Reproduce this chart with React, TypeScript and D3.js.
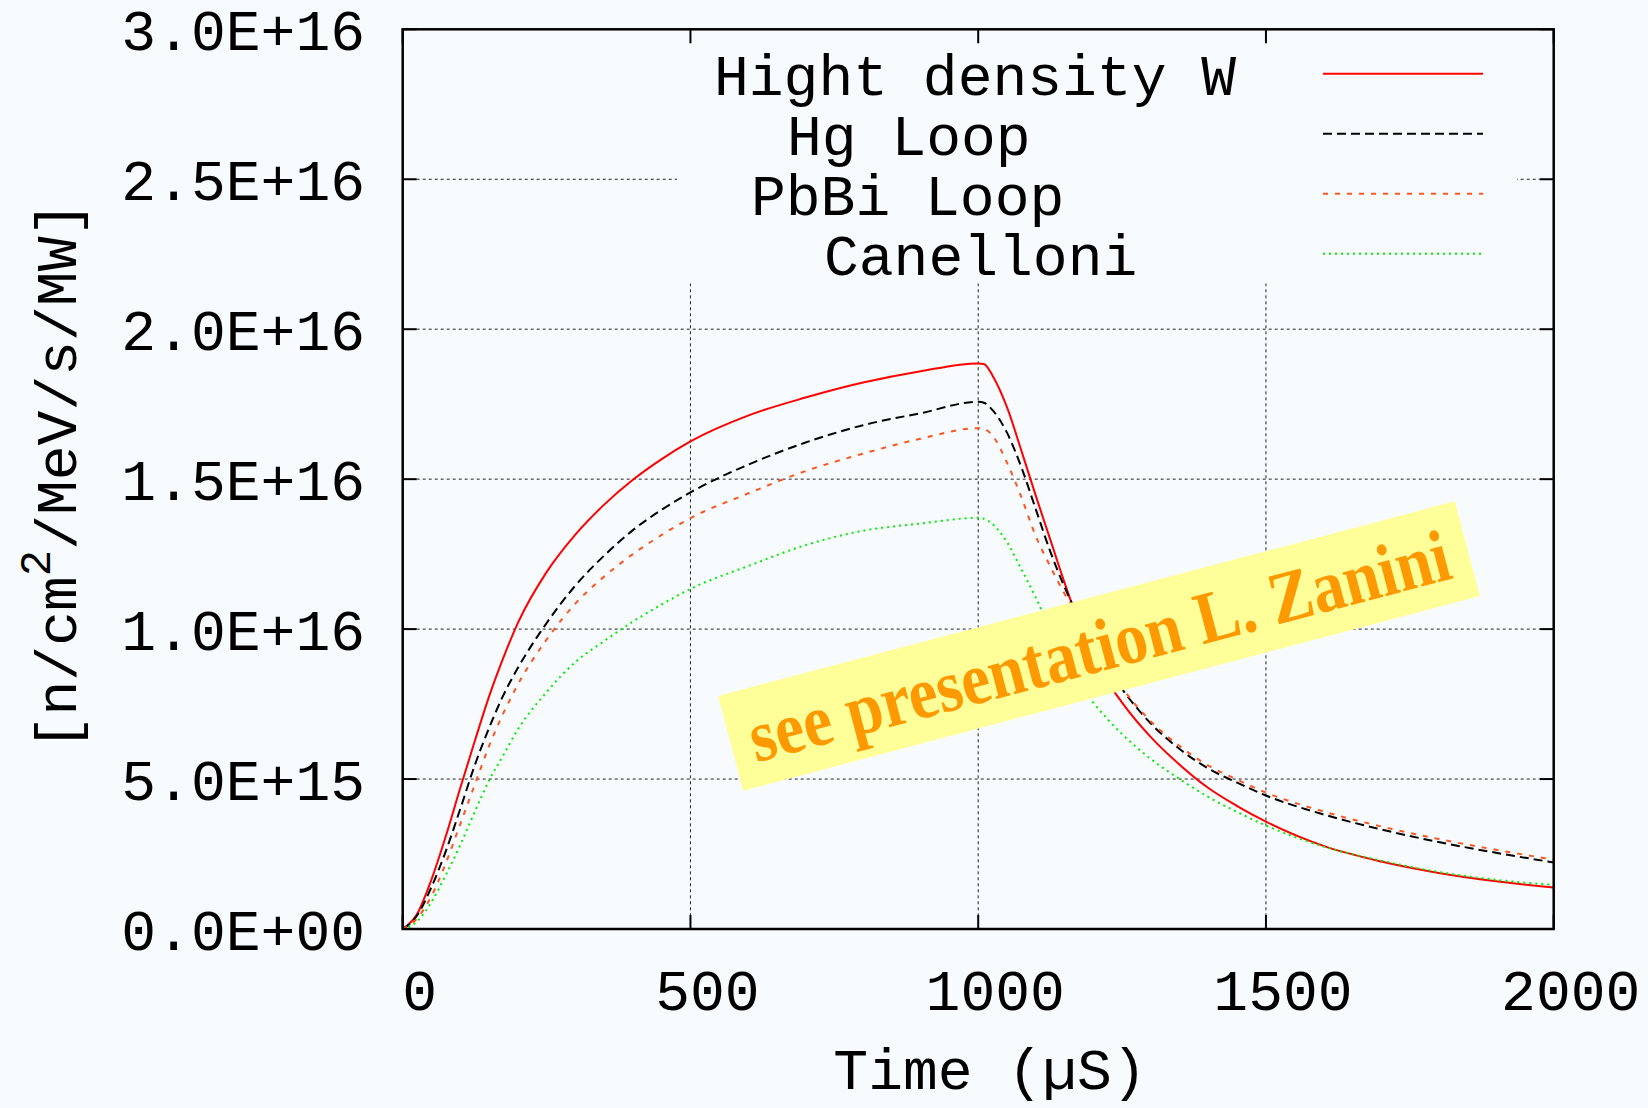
import React from 'react';
import * as d3 from 'd3';

// time in microseconds
const times = [0, 25, 50, 75, 100, 125, 150, 175, 200, 250, 300, 350, 400, 450, 500, 600, 700, 800, 900, 1000,
  1010, 1025, 1050, 1075, 1100, 1125, 1150, 1175, 1200, 1250, 1300, 1350, 1400, 1450, 1500, 1600, 1700, 1800, 1900, 2000];

// flux, in units of 1E+16 n/cm2/MeV/s/MW
const highDensityW = [0, 0.05, 0.165, 0.31, 0.47, 0.625, 0.775, 0.905, 1.02, 1.19, 1.315, 1.415, 1.498, 1.567, 1.626, 1.712, 1.772, 1.822, 1.86, 1.886,
  1.884, 1.845, 1.74, 1.595, 1.445, 1.3, 1.155, 1.02, 0.905, 0.755, 0.64, 0.548, 0.47, 0.41, 0.358, 0.277, 0.225, 0.187, 0.159, 0.138];
const hgLoop = [0, 0.045, 0.14, 0.26, 0.4, 0.545, 0.67, 0.78, 0.87, 1.02, 1.145, 1.245, 1.33, 1.398, 1.456, 1.548, 1.622, 1.68, 1.72, 1.758,
  1.755, 1.73, 1.655, 1.54, 1.4, 1.26, 1.14, 1.04, 0.95, 0.8, 0.685, 0.6, 0.535, 0.488, 0.445, 0.382, 0.332, 0.29, 0.254, 0.222];
const pbbiLoop = [0, 0.035, 0.11, 0.22, 0.35, 0.48, 0.61, 0.72, 0.815, 0.965, 1.085, 1.175, 1.25, 1.314, 1.37, 1.452, 1.527, 1.585, 1.635, 1.67,
  1.668, 1.645, 1.555, 1.44, 1.31, 1.21, 1.118, 1.04, 0.955, 0.805, 0.692, 0.61, 0.545, 0.498, 0.455, 0.392, 0.342, 0.3, 0.264, 0.231];
const canelloni = [0, 0.025, 0.09, 0.18, 0.28, 0.39, 0.495, 0.58, 0.665, 0.79, 0.89, 0.96, 1.025, 1.082, 1.134, 1.21, 1.28, 1.328, 1.352, 1.371,
  1.368, 1.35, 1.29, 1.2, 1.105, 1.0, 0.9, 0.82, 0.755, 0.65, 0.567, 0.5, 0.44, 0.39, 0.345, 0.275, 0.228, 0.19, 0.164, 0.147];

const seriesNames = ['Hight density W', 'Hg Loop', 'PbBi Loop', 'Canelloni'];

const xTicks = [0, 500, 1000, 1500, 2000];
const xTickLabels = ['0', '500', '1000', '1500', '2000'];
const yTicks = [0, 0.5, 1, 1.5, 2, 2.5, 3];
const yTickLabels = ['0.0E+00', '5.0E+15', '1.0E+16', '1.5E+16', '2.0E+16', '2.5E+16', '3.0E+16'];

const mono = '"Liberation Mono", "Courier New", monospace';
const bg = '#f7fbfd';

export default function App() {
  const x = d3.scaleLinear().domain([0, 2000]).range([402.7, 1553.7]);
  const y = d3.scaleLinear().domain([0, 3]).range([929, 29.3]);
  const [x0, x1] = x.range();
  const [y0, y1] = y.range();

  const line = d3.line<number>()
    .x((_, i) => x(times[i]))
    .y(d => y(d))
    .curve(d3.curveMonotoneX);

  const series = [
    { name: seriesNames[0], values: highDensityW, color: '#ff0000', dash: 'none' },
    { name: seriesNames[1], values: hgLoop, color: '#000000', dash: '9,5' },
    { name: seriesNames[2], values: pbbiLoop, color: '#ff5522', dash: '5,7' },
    { name: seriesNames[3], values: canelloni, color: '#00ee00', dash: '2,4' },
  ];
  // legend label left edges (gnuplot places them a bit unevenly)
  const legendTextX = [714, 787, 751, 824];

  const tick = 14;

  return (
    <svg width={1648} height={1108} style={{ position: 'absolute', left: 0, top: 0 }}>
      <rect x={0} y={0} width={1648} height={1108} fill={bg} />

      {/* grid */}
      <g stroke="#222" strokeWidth={1} strokeDasharray="3,3">
        {yTicks.filter(t => t > 0 && t < 3).map(t => (
          <line key={'gy' + t} x1={x0 + tick} x2={x1 - tick} y1={y(t)} y2={y(t)} />
        ))}
        {xTicks.filter(t => t > 0 && t < 2000).map(t => (
          <line key={'gx' + t} x1={x(t)} x2={x(t)} y1={y1 + tick} y2={y0 - tick} />
        ))}
      </g>

      {/* legend background hides the grid */}
      <rect x={677} y={y1} width={840} height={254} fill={bg} />

      {/* ticks on all four sides */}
      <g stroke="#000" strokeWidth={2}>
        {yTicks.map(t => (
          <g key={'ty' + t}>
            <line x1={x0} x2={x0 + tick} y1={y(t)} y2={y(t)} />
            <line x1={x1} x2={x1 - tick} y1={y(t)} y2={y(t)} />
          </g>
        ))}
        {xTicks.map(t => (
          <g key={'tx' + t}>
            <line x1={x(t)} x2={x(t)} y1={y0} y2={y0 - tick} />
            <line x1={x(t)} x2={x(t)} y1={y1} y2={y1 + tick} />
          </g>
        ))}
      </g>

      {/* curves */}
      <g fill="none" strokeWidth={2}>
        {series.map(s => (
          <path key={s.name} d={line(s.values) ?? ''} stroke={s.color} strokeDasharray={s.dash} />
        ))}
      </g>

      <rect x={x0} y={y1} width={x1 - x0} height={y0 - y1} fill="none" stroke="#000" strokeWidth={2.5} />

      {/* tick labels */}
      <g fontFamily={mono} fontSize={58} fill="#000">
        {yTicks.map((t, i) => (
          <text key={'ly' + t} x={365} y={y(t) + 21} textAnchor="end">{yTickLabels[i]}</text>
        ))}
        {xTicks.map((t, i) => (
          <text key={'lx' + t} x={x(t) + 17} y={1010} textAnchor="middle">{xTickLabels[i]}</text>
        ))}
        <text x={990} y={1089} textAnchor="middle">Time (µS)</text>
        <text transform="translate(76,476) rotate(-90)" textAnchor="middle">
          [n/cm<tspan dy={-26} fontSize={44}>2</tspan><tspan dy={26}>/MeV/s/MW]</tspan>
        </text>
      </g>

      {/* legend */}
      <g fontFamily={mono} fontSize={58} fill="#000">
        {series.map((s, i) => {
          const ly = 73.7 + i * 60;
          return (
            <g key={'leg' + s.name}>
              <text x={legendTextX[i]} y={ly + 21}>{s.name}</text>
              <line x1={1323} x2={1483} y1={ly} y2={ly} stroke={s.color} strokeWidth={2} strokeDasharray={s.dash} />
            </g>
          );
        })}
      </g>

      {/* annotation */}
      <g transform="translate(1099,646) rotate(-14.8)">
        <rect x={-381} y={-49} width={762} height={98} fill="#ffff99" />
        <text x={0} y={25} textAnchor="middle" fontFamily='"Liberation Serif", "Times New Roman", serif'
          fontWeight="bold" fontSize={74} textLength={722} lengthAdjust="spacingAndGlyphs"
          fill="#ff9900">see presentation L. Zanini</text>
      </g>
    </svg>
  );
}
